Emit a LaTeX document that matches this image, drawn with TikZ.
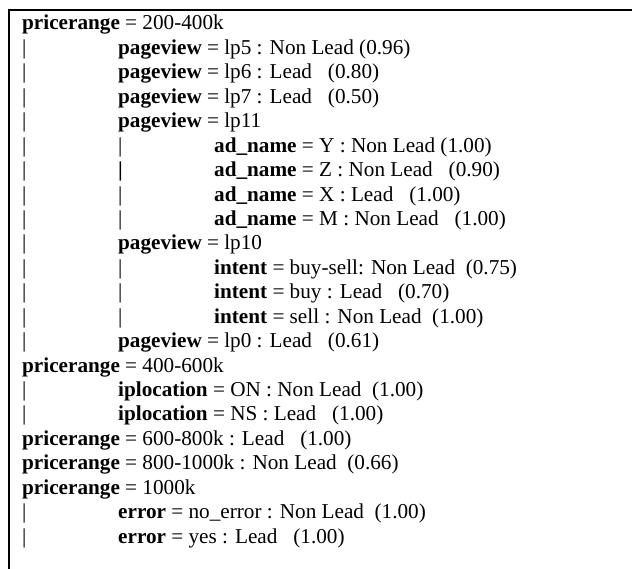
\documentclass[tikz,border=0pt]{standalone}
\usepackage{fontspec}
\setmainfont{Liberation Serif}
\begin{document}
\begin{tikzpicture}[x=1bp,y=-1bp,
  txt/.style={anchor=base west, inner sep=0pt, font=\fontsize{21.2bp}{24bp}\selectfont},
  vbar/.style={txt},
  frameline/.style={line width=2bp, black}]
\useasboundingbox (0,0) rectangle (633,569);
\draw[frameline] (9,569) -- (9,10) -- (632,10);
\def\LA{22}\def\LB{118}\def\LC{214}
\def\dy{24.43}
% line 0
\node[txt] (t0) at (\LA,30) {\textbf{pricerange} = 200-400k};
% line 1
\node[vbar] (b1) at (\LA,30+1*\dy) {|};
\node[txt] (t1) at (\LB,30+1*\dy) {\textbf{pageview} = lp5 : Non Lead (0.96)};
% line 2
\node[vbar] (b2) at (\LA,30+2*\dy) {|};
\node[txt] (t2) at (\LB,30+2*\dy) {\textbf{pageview} = lp6 : Lead~~~(0.80)};
% line 3
\node[vbar] (b3) at (\LA,30+3*\dy) {|};
\node[txt] (t3) at (\LB,30+3*\dy) {\textbf{pageview} = lp7 : Lead~~~(0.50)};
% line 4
\node[vbar] (b4) at (\LA,30+4*\dy) {|};
\node[txt] (t4) at (\LB,30+4*\dy) {\textbf{pageview} = lp11};
% line 5
\node[vbar] (b5) at (\LA,30+5*\dy) {|};
\node[vbar] (c5) at (\LB,30+5*\dy) {|};
\node[txt] (t5) at (\LC,30+5*\dy) {\textbf{ad\_name} = Y : Non Lead (1.00)};
% line 6
\node[vbar] (b6) at (\LA,30+6*\dy) {|};
\node[vbar] (c6) at (\LB,30+6*\dy) {\textbf{|}};
\node[txt] (t6) at (\LC,30+6*\dy) {\textbf{ad\_name} = Z : Non Lead~~~(0.90)};
% line 7
\node[vbar] (b7) at (\LA,30+7*\dy) {|};
\node[vbar] (c7) at (\LB,30+7*\dy) {|};
\node[txt] (t7) at (\LC,30+7*\dy) {\textbf{ad\_name} = X : Lead~~~(1.00)};
% line 8
\node[vbar] (b8) at (\LA,30+8*\dy) {|};
\node[vbar] (c8) at (\LB,30+8*\dy) {|};
\node[txt] (t8) at (\LC,30+8*\dy) {\textbf{ad\_name} = M : Non Lead~~~(1.00)};
% line 9
\node[vbar] (b9) at (\LA,30+9*\dy) {|};
\node[txt] (t9) at (\LB,30+9*\dy) {\textbf{pageview} = lp10};
% line 10
\node[vbar] (b10) at (\LA,30+10*\dy) {|};
\node[vbar] (c10) at (\LB,30+10*\dy) {|};
\node[txt] (t10) at (\LC,30+10*\dy) {\textbf{intent} = buy-sell: Non Lead~~(0.75)};
% line 11
\node[vbar] (b11) at (\LA,30+11*\dy) {|};
\node[vbar] (c11) at (\LB,30+11*\dy) {|};
\node[txt] (t11) at (\LC,30+11*\dy) {\textbf{intent} = buy : Lead~~~(0.70)};
% line 12
\node[vbar] (b12) at (\LA,30+12*\dy) {|};
\node[vbar] (c12) at (\LB,30+12*\dy) {|};
\node[txt] (t12) at (\LC,30+12*\dy) {\textbf{intent} = sell : Non Lead~~(1.00)};
% line 13
\node[vbar] (b13) at (\LA,30+13*\dy) {|};
\node[txt] (t13) at (\LB,30+13*\dy) {\textbf{pageview} = lp0 : Lead~~~(0.61)};
% line 14
\node[txt] (t14) at (\LA,30+14*\dy) {\textbf{pricerange} = 400-600k};
% line 15
\node[vbar] (b15) at (\LA,30+15*\dy) {|};
\node[txt] (t15) at (\LB,30+15*\dy) {\textbf{iplocation} = ON : Non Lead~~(1.00)};
% line 16
\node[vbar] (b16) at (\LA,30+16*\dy) {|};
\node[txt] (t16) at (\LB,30+16*\dy) {\textbf{iplocation} = NS : Lead~~~(1.00)};
% line 17
\node[txt] (t17) at (\LA,30+17*\dy) {\textbf{pricerange} = 600-800k : Lead~~~(1.00)};
% line 18
\node[txt] (t18) at (\LA,30+18*\dy) {\textbf{pricerange} = 800-1000k : Non Lead~~(0.66)};
% line 19
\node[txt] (t19) at (\LA,30+19*\dy) {\textbf{pricerange} = 1000k};
% line 20
\node[vbar] (b20) at (\LA,30+20*\dy) {|};
\node[txt] (t20) at (\LB,30+20*\dy) {\textbf{error} = no\_error : Non Lead~~(1.00)};
% line 21
\node[vbar] (b21) at (\LA,30+21*\dy) {|};
\node[txt] (t21) at (\LB,30+21*\dy) {\textbf{error} = yes : Lead~~~(1.00)};
\end{tikzpicture}
\end{document}
